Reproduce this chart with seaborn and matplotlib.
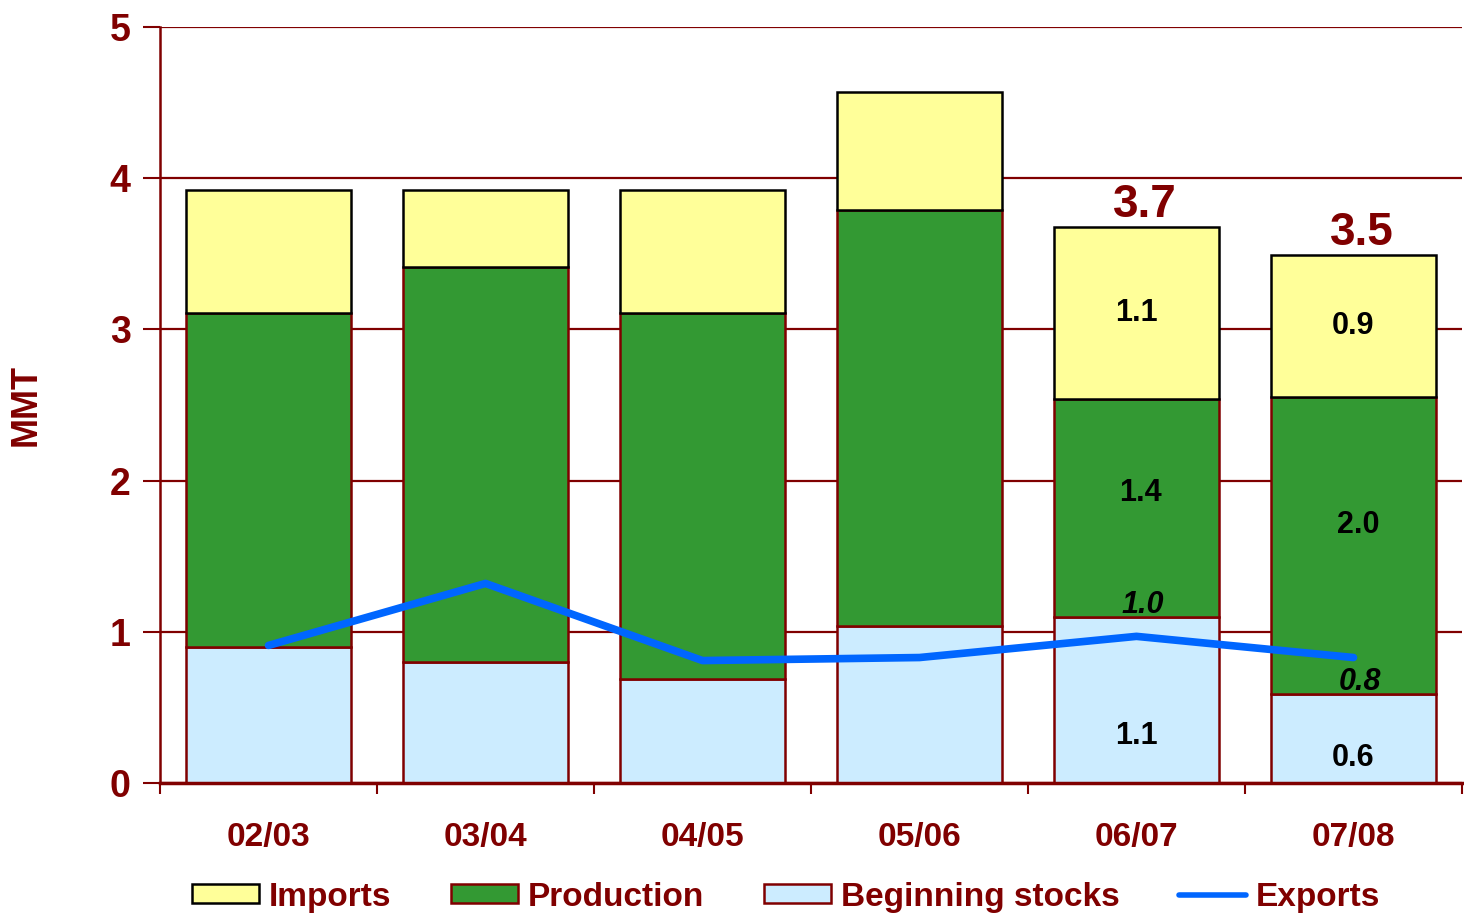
import numpy as np
import pandas as pd
import matplotlib
matplotlib.use('Agg')
import matplotlib.pyplot as plt
import seaborn as sns
from matplotlib.patches import Patch
from matplotlib.lines import Line2D

# dados (MMT)
seasons = ['02/03', '03/04', '04/05', '05/06', '06/07', '07/08']
stocks = [0.90, 0.80, 0.69, 1.04, 1.10, 0.59]
production = [2.21, 2.61, 2.42, 2.75, 1.44, 1.96]
imports = [0.81, 0.51, 0.81, 0.78, 1.14, 0.94]
exports = [0.91, 1.32, 0.81, 0.83, 0.97, 0.83]
labelled = ['06/07', '07/08']

df = pd.DataFrame({'season': seasons, 'stocks': stocks,
                   'production': production, 'imports': imports})
df['prod_bottom'] = df['stocks']
df['imp_bottom'] = df['stocks'] + df['production']
df['total'] = df['imp_bottom'] + df['imports']

dark_red = '#800000'
c_stocks = '#CCECFF'
c_prod = '#339933'
c_imp = '#FFFF99'
c_exp = '#0066FF'

sns.set_theme(style='white')
plt.rcParams['font.family'] = ['Liberation Sans', 'DejaVu Sans']
plt.rcParams['font.weight'] = 'bold'

fig = plt.figure(figsize=(14.64, 9.21), dpi=100)
ax = fig.add_axes([0.1093, 0.1498, 0.8893, 0.8209])

bar_w = 0.76
sns.barplot(data=df, x='season', y='stocks', color=c_stocks, edgecolor=dark_red,
            linewidth=1.8, width=bar_w, saturation=1, ax=ax)
sns.barplot(data=df, x='season', y='production', bottom=df['prod_bottom'].values,
            color=c_prod, edgecolor=dark_red, linewidth=1.8, width=bar_w,
            saturation=1, ax=ax)
sns.barplot(data=df, x='season', y='imports', bottom=df['imp_bottom'].values,
            color=c_imp, edgecolor='black', linewidth=1.8, width=bar_w,
            saturation=1, ax=ax)

# linha de exportacoes
sns.lineplot(x=np.arange(len(seasons)), y=exports, color=c_exp, linewidth=5.5,
             solid_capstyle='round', solid_joinstyle='round', ax=ax, zorder=5)

# rotulos das duas ultimas safras
fs_in = 22
for i, s in enumerate(seasons):
    if s not in labelled:
        continue
    r = df.iloc[i]
    ax.text(i, r['stocks'] * 0.28, f"{r['stocks']:.1f}", ha='center', va='center',
            fontsize=fs_in, fontweight='bold', color='black', zorder=6)
    ax.text(i + 0.02, r['prod_bottom'] + r['production'] * 0.57, f"{r['production']:.1f}",
            ha='center', va='center', fontsize=fs_in, fontweight='bold', color='black', zorder=6)
    ax.text(i, r['imp_bottom'] + r['imports'] * 0.5, f"{r['imports']:.1f}",
            ha='center', va='center', fontsize=fs_in, fontweight='bold', color='black', zorder=6)
    ax.text(i + 0.03, r['stocks'] + 0.08, f"{exports[i]:.1f}", ha='center', va='center',
            fontsize=fs_in, fontweight='bold', fontstyle='italic', color='black', zorder=6)
    ax.text(i + 0.04, r['total'] + 0.0, f"{r['total']:.1f}", ha='center', va='bottom',
            fontsize=33, fontweight='bold', color=dark_red, zorder=6)

# eixos
ax.set_xlim(-0.5, len(seasons) - 0.5)
ax.set_ylim(0, 5)
ax.set_yticks(range(6))
ax.set_xticks(range(len(seasons)))
ax.set_xticklabels(seasons)
ax.set_xticks(np.arange(-0.5, len(seasons)), minor=True)
ax.tick_params(axis='x', which='major', length=0, pad=28, labelsize=24,
               labelcolor=dark_red)
ax.tick_params(axis='x', which='minor', length=8, width=1.5, color=dark_red,
               direction='out', bottom=True)
ax.tick_params(axis='y', length=12, width=1.5, color=dark_red, direction='out',
               pad=9, labelsize=27, labelcolor=dark_red, left=True)
for lab in ax.get_xticklabels() + ax.get_yticklabels():
    lab.set_fontweight('bold')

ax.yaxis.grid(True, color=dark_red, linewidth=1.6)
ax.xaxis.grid(False)
ax.set_axisbelow(True)
for side in ['top', 'right']:
    ax.spines[side].set_visible(False)
ax.spines['left'].set_color(dark_red)
ax.spines['left'].set_linewidth(1.8)
ax.spines['bottom'].set_color(dark_red)
ax.spines['bottom'].set_linewidth(2.5)

ax.set_xlabel('')
ax.set_ylabel('MMT', fontsize=26, fontweight='bold', color=dark_red, labelpad=48)

handles = [
    Patch(facecolor=c_imp, edgecolor='black', linewidth=1.8, label='Imports'),
    Patch(facecolor=c_prod, edgecolor=dark_red, linewidth=1.8, label='Production'),
    Patch(facecolor=c_stocks, edgecolor=dark_red, linewidth=1.8, label='Beginning stocks'),
    Line2D([0], [0], color=c_exp, linewidth=4, label='Exports'),
]
leg = fig.legend(handles=handles, loc='center', bbox_to_anchor=(0.537, 0.026), ncol=4,
                 frameon=False, fontsize=24, handlelength=2.0, handleheight=0.5,
                 handletextpad=0.3, columnspacing=1.8)
for t in leg.get_texts():
    t.set_color(dark_red)
    t.set_fontweight('bold')

fig.savefig('out.png', dpi=100)
